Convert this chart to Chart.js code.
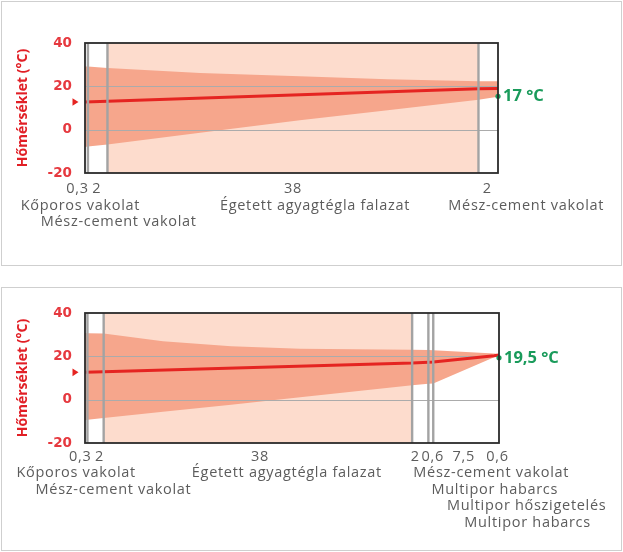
<!DOCTYPE html>
<html><head><meta charset="utf-8">
<script src="https://cdn.jsdelivr.net/npm/chart.js@4/dist/chart.umd.min.js"></script>
<style>
body{margin:0;background:#fff;width:623px;height:552px;position:relative;overflow:hidden}
.panel{position:absolute;border:1.5px solid #cfcfcf;box-sizing:border-box}
canvas{position:absolute}
</style></head><body>
<div class="panel" style="left:1px;top:1px;width:621px;height:265px"></div>
<div class="panel" style="left:1px;top:287px;width:621px;height:264px"></div>
<canvas id="c1" style="left:0;top:0" width="623" height="270"></canvas>
<canvas id="c2" style="left:0;top:283px" width="623" height="269"></canvas>
<script>
// ---------- data ----------
const yTicks = [40, 20, 0, -20];
const yTitle = 'Hőmérséklet (°C)';

// chart 1
const thick1 = [0.3, 2, 38, 2];
const tickText1 = ['0,3', '2', '38', '2'];
const names1 = ['Kőporos vakolat', 'Mész-cement vakolat', 'Égetett agyagtégla falazat', 'Mész-cement vakolat'];
const shaded1 = [false, false, true, false];
const profX1 = [0, 2.3, 40.3, 42.3];
const temp1 = [12.8, 13.1, 18.9, 19.0];
const bandX1 = [0, 0.3, 2.3, 11.8, 22, 31, 40.3, 42.3];
const bandHi1 = [29.2, 29.1, 28.5, 26.2, 24.6, 23.3, 22.3, 22.3];
const bandLo1 = [-8, -7.8, -6.9, -1.4, 4.3, 9.0, 13.8, 15.2];
const surface1 = 15.4;
const surfaceLabel1 = '17 °C';

// chart 2
const thick2 = [0.3, 2, 38, 2, 0.6, 7.5, 0.6];
const tickText2 = ['0,3', '2', '38', '2', '0,6', '7,5', '0,6'];
const names2 = ['Kőporos vakolat', 'Mész-cement vakolat', 'Égetett agyagtégla falazat', 'Mész-cement vakolat', 'Multipor habarcs', 'Multipor hőszigetelés', 'Multipor habarcs'];
const shaded2 = [false, false, true, false, false, false, false];
const profX2 = [0, 2.3, 40.3, 42.3, 42.9, 50.4, 51];
const temp2 = [12.6, 12.9, 16.9, 17.3, 17.4, 20.3, 20.6];
const bandX2 = [0, 0.3, 2.3, 9.6, 18, 26.5, 40.3, 42.3, 42.9, 50.4, 51];
const bandHi2 = [30.8, 30.7, 30.5, 27.0, 24.6, 23.5, 23.0, 22.9, 22.8, 21.3, 21.1];
const bandLo2 = [-9.5, -9.3, -8.5, -5.6, -2.3, 1.1, 6.6, 7.3, 7.5, 19.6, 20.6];
const surface2 = 19.3;
const surfaceLabel2 = '19,5 °C';

// ---------- layout / style (not data) ----------
const C = {
  peach: '#fddccd', band: '#f6a68c', red: '#e52421', tickRed: '#e6393f', titleRed: '#e11f26',
  green: '#1a9b5b', grid: '#ababab', sep: '#a3a3a3', border: '#2b2b2b', text: '#5c5c5c'
};
const layout1 = {
  padding: {left: 0, top: 43, right: 125, bottom: 97},
  tickOff: 16, rowStart: 32.5, rowStep: 16.5,
  tickNudge: [-9, -1, 0, -1],
  nameNudge: [-6, 21, 22, 38],
  nameRow: [0, 1, 0, 0]
};
const layout2 = {
  padding: {left: 0, top: 30, right: 124, bottom: 109},
  tickOff: 13.5, rowStart: 30, rowStep: 16.5,
  tickNudge: [-6, 4, 2, -5, 2, 0, 1],
  nameNudge: [-10, 18, 29, 71, 64, 63, 31],
  nameRow: [0, 1, 0, 0, 1, 2, 3]
};

function cumul(t) { const b = [0]; t.forEach(v => b.push(+(b[b.length - 1] + v).toFixed(4))); return b; }
function pts(xs, ys) { return xs.map((x, i) => ({x, y: ys[i]})); }

function makeChart(id, d, L) {
  const bounds = cumul(d.thick);
  const total = bounds[bounds.length - 1];
  const yMin = yTicks[yTicks.length - 1], yMax = yTicks[0];
  const clear = 'rgba(0,0,0,0)';
  const datasets = [
    {type: 'scatter', data: [{x: total, y: d.surface}], pointRadius: 2.6, pointBackgroundColor: C.green, pointBorderWidth: 0, clip: false},
    {type: 'line', data: pts(d.profX, d.temp), borderColor: C.red, borderWidth: 3, pointRadius: 0, fill: false},
    {type: 'line', data: pts(d.bandX, d.bandLo), borderColor: clear, borderWidth: 0, pointRadius: 0, fill: '+1', backgroundColor: C.band},
    {type: 'line', data: pts(d.bandX, d.bandHi), borderColor: clear, borderWidth: 0, pointRadius: 0, fill: false}
  ];
  d.shaded.forEach((s, i) => {
    if (s) datasets.push({type: 'line', data: [{x: bounds[i], y: yMax}, {x: bounds[i + 1], y: yMax}],
      borderColor: clear, borderWidth: 0, pointRadius: 0, fill: {value: yMin}, backgroundColor: C.peach});
  });

  const deco = {
    id: 'deco',
    afterDatasetDraw(chart, args) {
      if (args.index !== 2) return;
      const {ctx, chartArea: a, scales: {y}} = chart;
      ctx.save();
      ctx.strokeStyle = C.grid; ctx.lineWidth = 1;
      yTicks.forEach(v => {
        if (v === yMin || v === yMax) return;
        const py = Math.round(y.getPixelForValue(v)) + 0.5;
        ctx.beginPath(); ctx.moveTo(a.left, py); ctx.lineTo(a.right, py); ctx.stroke();
      });
      ctx.restore();
    },
    afterDatasetsDraw(chart) {
      const {ctx, chartArea: a, scales: {x, y}} = chart;
      ctx.save();
      // layer separators
      ctx.strokeStyle = C.sep; ctx.lineWidth = 2.4;
      bounds.slice(1, -1).forEach(b => {
        const px = x.getPixelForValue(b);
        if (a.right - px < 6) return;
        ctx.beginPath(); ctx.moveTo(px, a.top); ctx.lineTo(px, a.bottom); ctx.stroke();
      });
      // frame
      ctx.strokeStyle = C.border; ctx.lineWidth = 1.8;
      ctx.strokeRect(a.left, a.top, a.right - a.left, a.bottom - a.top);
      // inner temperature arrow
      const ay = y.getPixelForValue(d.temp[0]);
      ctx.fillStyle = C.red;
      ctx.beginPath(); ctx.moveTo(a.left - 12.5, ay - 3.8); ctx.lineTo(a.left - 12.5, ay + 3.8); ctx.lineTo(a.left - 6.5, ay); ctx.closePath(); ctx.fill();
      // surface label
      const gx = x.getPixelForValue(total), gy = y.getPixelForValue(d.surface);
      ctx.fillStyle = C.green; ctx.font = 'bold 16.5px "Open Sans"';
      ctx.textAlign = 'left'; ctx.textBaseline = 'middle';
      ctx.fillText(d.surfaceLabel, gx + 5, gy);
      // thickness labels and layer names
      ctx.fillStyle = C.text; ctx.font = '14.5px "Open Sans"'; ctx.textAlign = 'center';
      ctx.letterSpacing = '0.7px';
      d.thick.forEach((t, i) => {
        const xm = x.getPixelForValue((bounds[i] + bounds[i + 1]) / 2);
        ctx.fillText(d.tickText[i], xm + L.tickNudge[i], a.bottom + L.tickOff);
        ctx.fillText(d.names[i], xm + L.nameNudge[i], a.bottom + L.rowStart + L.nameRow[i] * L.rowStep);
      });
      ctx.letterSpacing = '0px';
      ctx.restore();
    }
  };

  return new Chart(document.getElementById(id), {
    data: {datasets},
    options: {
      responsive: false, animation: false, events: [],
      layout: {padding: L.padding},
      plugins: {legend: {display: false}, tooltip: {enabled: false}},
      scales: {
        x: {type: 'linear', min: 0, max: total, display: false},
        y: {
          type: 'linear', min: yMin, max: yMax,
          afterBuildTicks: s => { s.ticks = yTicks.map(v => ({value: v})); },
          grid: {display: false, drawTicks: false}, border: {display: false},
          ticks: {color: C.tickRed, padding: 13, font: {family: 'DejaVu Sans', weight: 'bold', size: 13.5}, callback: v => String(v)},
          title: {display: true, text: yTitle, color: C.titleRed, padding: {top: 15, bottom: 0}, font: {family: 'Open Sans', weight: 'bold', size: 14}},
          afterFit: s => { s.width = 85; }
        }
      }
    },
    plugins: [deco]
  });
}

makeChart('c1', {thick: thick1, tickText: tickText1, names: names1, shaded: shaded1, profX: profX1, temp: temp1,
  bandX: bandX1, bandHi: bandHi1, bandLo: bandLo1, surface: surface1, surfaceLabel: surfaceLabel1}, layout1);
makeChart('c2', {thick: thick2, tickText: tickText2, names: names2, shaded: shaded2, profX: profX2, temp: temp2,
  bandX: bandX2, bandHi: bandHi2, bandLo: bandLo2, surface: surface2, surfaceLabel: surfaceLabel2}, layout2);
</script>
</body></html>
